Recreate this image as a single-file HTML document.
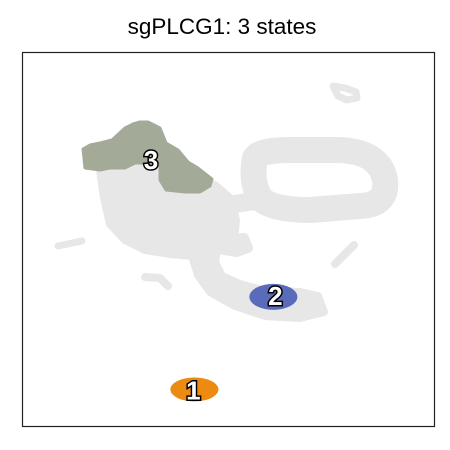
<!DOCTYPE html>
<html><head><meta charset="utf-8"><style>
body{margin:0;background:#fff;}
svg{display:block;font-family:"Liberation Sans",Arial,sans-serif;}
</style></head><body>
<svg id="chart" width="450" height="450" viewBox="0 0 450 450">
<text x="222" y="34" text-anchor="middle" font-size="22.5" fill="#000">sgPLCG1: 3 states</text>
<g id="bg" fill="#e7e7e7" stroke="#e7e7e7" stroke-width="8" stroke-linejoin="round" stroke-linecap="round">
<path d="M100,170 L140,162 L175,170 L215,185 L230,198 L236,220 L234,240 L218,246 L215,262 L222,276 L240,284 L262,290 L300,292 L318,296 L324,312 L300,318 L265,316 L235,306 L210,292 L198,275 L192,256 L170,254 L145,250 L125,240 L110,224 L104,198 Z"/>
<path d="M255,158 Q260,150 290,150 L340,150 Q380,152 385,180 Q388,205 360,206 L310,210 Q275,210 262,200 Q250,185 255,158 Z" fill="none" stroke-width="26"/>
<path d="M228,205 L262,200" fill="none" stroke-width="18"/>
<path d="M333,86 L345,88 L356,92 L357,98 L347,100 L338,96 Z" fill="none" stroke-width="7"/>
<path d="M58,246 L82,241" fill="none" stroke-width="7"/>
<path d="M145,277 L160,278 L168,286" fill="none" stroke-width="8"/>
<path d="M226,240 L244,238 L248,248 L236,252 L224,250 Z" stroke-width="10"/>
<path d="M335,264 L354,245" fill="none" stroke-width="8"/>
</g>
<rect x="22.5" y="52.5" width="412" height="374" fill="none" stroke="#222" stroke-width="1.2"/>
<g id="states"></g>
</svg>
<script>
const stateLabels = ["1","2","3"];
const stateColors = ["#ec8a12","#5b6bbb","#a4aa98"];
const stateX = [41.6,61.5,31.3];
const stateY = [9.5,34.8,71.1];
const xs = v => 22 + v/100*412;
const ys = v => 426 - v/100*374;
const g = document.getElementById('states');
const NS = 'http://www.w3.org/2000/svg';
const p3 = document.createElementNS(NS,'polygon');
p3.setAttribute('points','83,149 90,145 100,143 112,140 125,128 133,124 140,122 148,122 160,128 166,143 178,150 188,162 198,168 212,179 210,186 200,192 185,192 166,190 160,180 160,164 145,163 135,163 125,168 110,168 100,170 85,168');
p3.setAttribute('fill',stateColors[2]);
p3.setAttribute('stroke',stateColors[2]);
p3.setAttribute('stroke-width','3');
p3.setAttribute('stroke-linejoin','round');


g.appendChild(p3);
const e2 = document.createElementNS(NS,'ellipse');
e2.setAttribute('cx',xs(stateX[1])-2);e2.setAttribute('cy',ys(stateY[1])+1);
e2.setAttribute('rx',24);e2.setAttribute('ry',13);e2.setAttribute('fill',stateColors[1]);


g.appendChild(e2);
const e1 = document.createElementNS(NS,'ellipse');
e1.setAttribute('cx',xs(stateX[0])+1);e1.setAttribute('cy',ys(stateY[0])-1);
e1.setAttribute('rx',24);e1.setAttribute('ry',12);e1.setAttribute('fill',stateColors[0]);


g.appendChild(e1);
for(let i=0;i<stateLabels.length;i++){
  const t=document.createElementNS(NS,'text');
  t.setAttribute('x',xs(stateX[i]));t.setAttribute('y',ys(stateY[i])+9);
  t.setAttribute('text-anchor','middle');t.setAttribute('font-size','26');
  t.setAttribute('font-weight','bold');t.setAttribute('fill','#fff');
  t.setAttribute('stroke','#000');t.setAttribute('stroke-width','3');
  t.setAttribute('paint-order','stroke');
  t.textContent=stateLabels[i];
  
  
  g.appendChild(t);
}
</script>
</body></html>
